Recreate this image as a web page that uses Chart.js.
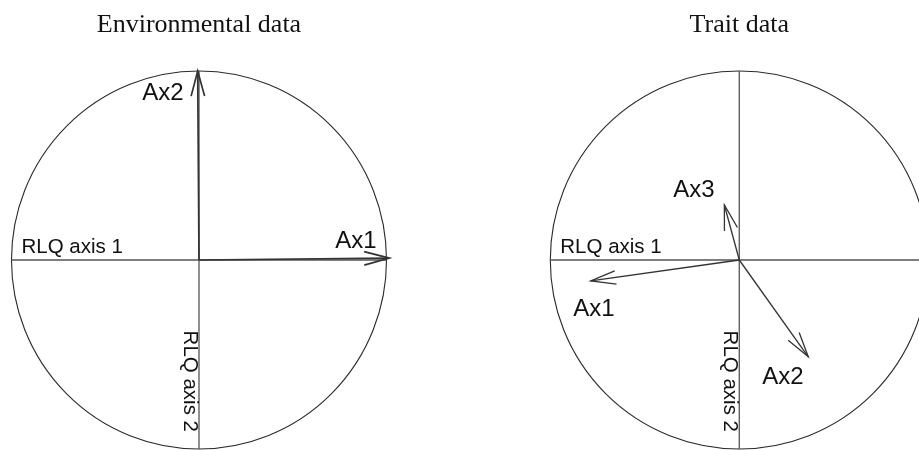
<!DOCTYPE html>
<html><head><meta charset="utf-8">
<script src="https://cdn.jsdelivr.net/npm/chart.js@4.4.1/dist/chart.umd.min.js"></script>
<style>
html,body{margin:0;padding:0;background:#fff;}
#wrap{position:relative;width:919px;height:450px;overflow:hidden;background:#fff;}
#c1{position:absolute;left:0;top:0;}
#c2{position:absolute;left:460px;top:0;}
</style></head><body>
<div id="wrap"><canvas id="c1" width="460" height="450"></canvas><canvas id="c2" width="459" height="450"></canvas></div>
<script>
// ---- data ----
const envTitle = "Environmental data";
const traitTitle = "Trait data";
const axisNames = ["RLQ axis 1", "RLQ axis 2"];

const envLabels = ["Ax1", "Ax2"];
const envX = [1.015, -0.007];
const envY = [0.01, 1.0];
const envLabelX = [0.837, -0.192];
const envLabelY = [0.106, 0.889];

const traitLabels = ["Ax1", "Ax2", "Ax3"];
const traitX = [-0.786, 0.365, -0.079];
const traitY = [-0.111, -0.512, 0.291];
const traitLabelX = [-0.769, 0.231, -0.240];
const traitLabelY = [-0.254, -0.614, 0.376];

// ---- drawing ----
const corPlugin = {
  id: 'cor',
  beforeDatasetsDraw(chart, args, opts) {
    const {ctx, chartArea} = chart;
    const x = chart.scales.x, y = chart.scales.y;
    const cx = x.getPixelForValue(0), cy = y.getPixelForValue(0);
    const rx = x.getPixelForValue(1) - cx, ry = cy - y.getPixelForValue(1);
    ctx.save();
    // circle
    ctx.strokeStyle = '#2a2a2a'; ctx.lineWidth = 1.1;
    ctx.beginPath(); ctx.ellipse(cx, cy, rx, ry, 0, 0, Math.PI * 2); ctx.stroke();
    // axes
    ctx.strokeStyle = '#555'; ctx.lineWidth = 1.3;
    ctx.beginPath();
    ctx.moveTo(cx - rx, cy); ctx.lineTo(cx + rx, cy);
    ctx.moveTo(cx, cy - ry); ctx.lineTo(cx, cy + ry);
    ctx.stroke();
    // axis names
    ctx.fillStyle = '#111';
    ctx.font = '20.5px "Liberation Sans", Arial, sans-serif';
    ctx.textAlign = 'left'; ctx.textBaseline = 'alphabetic';
    ctx.fillText(axisNames[0], cx - rx + 10, cy - 7);
    ctx.save();
    ctx.translate(cx - 15, chartArea.bottom - 17);
    ctx.rotate(Math.PI / 2);
    ctx.textAlign = 'right';
    ctx.fillText(axisNames[1], 0, 0);
    ctx.restore();
    // title
    ctx.font = '26px "Liberation Serif", "Times New Roman", serif';
    ctx.textAlign = 'center';
    ctx.fillText(opts.title, cx, 32);
    ctx.restore();
  },
  afterDatasetsDraw(chart, args, opts) {
    const {ctx} = chart;
    const x = chart.scales.x, y = chart.scales.y;
    ctx.save();
    ctx.strokeStyle = '#333'; ctx.lineWidth = opts.lw;
    chart.data.datasets.forEach((ds, i) => {
      const pts = chart.getDatasetMeta(i).data;
      const p0 = pts[0], p1 = pts[1];
      const ang = Math.atan2(p1.y - p0.y, p1.x - p0.x);
      const L = 26, a = 15 * Math.PI / 180;
      ctx.beginPath();
      ctx.moveTo(p1.x - L * Math.cos(ang - a), p1.y - L * Math.sin(ang - a));
      ctx.lineTo(p1.x, p1.y);
      ctx.lineTo(p1.x - L * Math.cos(ang + a), p1.y - L * Math.sin(ang + a));
      ctx.stroke();
    });
    ctx.fillStyle = '#111';
    ctx.font = '24px "Liberation Sans", Arial, sans-serif';
    ctx.textAlign = 'center'; ctx.textBaseline = 'middle';
    opts.labels.forEach((l, i) => {
      ctx.fillText(l, x.getPixelForValue(opts.lx[i]), y.getPixelForValue(opts.ly[i]) + 1);
    });
    ctx.restore();
  }
};

function makeChart(id, title, labels, vx, vy, lx, ly, xmax, pad, lw) {
  return new Chart(document.getElementById(id), {
    type: 'scatter',
    data: {
      datasets: labels.map((l, i) => ({
        label: l,
        data: [{x: 0, y: 0}, {x: vx[i], y: vy[i]}],
        showLine: true, borderColor: '#333', borderWidth: lw,
        pointRadius: 0, clip: false
      }))
    },
    options: {
      responsive: false, animation: false, devicePixelRatio: 1, events: [],
      layout: {padding: pad},
      scales: {
        x: {type: 'linear', min: -1, max: xmax, display: false},
        y: {type: 'linear', min: -1, max: 1, display: false}
      },
      plugins: {
        legend: {display: false}, tooltip: {enabled: false},
        cor: {title: title, labels: labels, lx: lx, ly: ly, lw: lw}
      }
    },
    plugins: [corPlugin]
  });
}

makeChart('c1', envTitle, envLabels, envX, envY, envLabelX, envLabelY, 1,
  {top: 71, bottom: 1, left: 11.5, right: 73.5}, 1.7);
makeChart('c2', traitTitle, traitLabels, traitX, traitY, traitLabelX, traitLabelY, 0.951,
  {top: 71, bottom: 1, left: 90.3, right: 0}, 1.3);
</script>
</body></html>
